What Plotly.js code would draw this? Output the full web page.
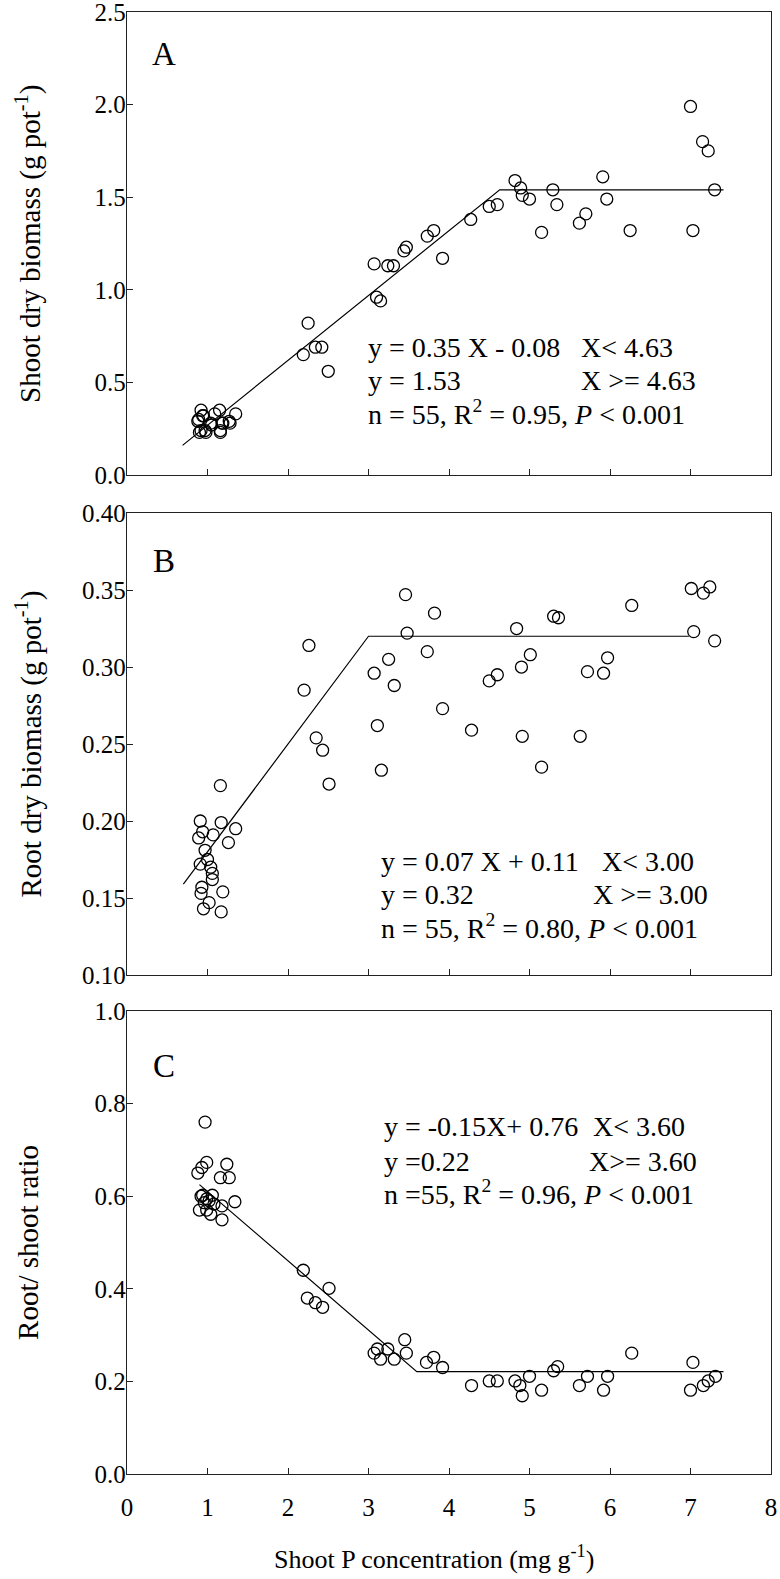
<!DOCTYPE html>
<html>
<head>
<meta charset="utf-8">
<script src="https://cdn.plot.ly/plotly-3.0.1.min.js"></script>
<style>html,body{margin:0;padding:0;background:#fff;}</style>
</head>
<body>
<div id="chart" style="width:780px;height:1579px;"></div>
<script>
// ---- Panel A: shoot dry biomass ----
const xA = [0.88,0.89,0.90,0.92,0.92,0.94,0.95,0.97,0.98,1.04,1.05,1.09,1.15,1.16,1.16,1.18,1.19,1.27,1.28,1.35,
            2.19,2.25,2.34,2.42,2.50,
            3.07,3.10,3.15,3.24,3.31,3.44,3.47,3.73,3.81,3.92,
            4.27,4.50,4.60,4.82,4.89,4.91,5.00,5.15,5.29,5.34,5.62,5.70,5.91,5.96,6.25,7.00,7.03,7.15,7.22,7.30];
const yA = [0.29,0.30,0.23,0.35,0.24,0.32,0.32,0.24,0.23,0.28,0.27,0.33,0.35,0.24,0.23,0.28,0.28,0.29,0.28,0.33,
            0.65,0.82,0.69,0.69,0.56,
            1.14,0.96,0.94,1.13,1.13,1.21,1.23,1.29,1.32,1.17,
            1.38,1.45,1.46,1.59,1.55,1.51,1.49,1.31,1.54,1.46,1.36,1.41,1.61,1.49,1.32,1.99,1.32,1.80,1.75,1.54];
const fitAx = [0.69, 4.63, 7.41];
const fitAy = [0.16, 1.54, 1.54];

// ---- Panel B: root dry biomass ----
const xB = [0.89,0.91,0.91,0.92,0.93,0.94,0.95,0.97,1.00,1.02,1.04,1.06,1.06,1.07,1.16,1.17,1.17,1.19,1.26,1.35,
            2.20,2.26,2.35,2.43,2.51,
            3.07,3.11,3.16,3.25,3.32,3.46,3.48,3.73,3.82,3.92,
            4.28,4.50,4.60,4.84,4.90,4.91,5.01,5.15,5.30,5.36,5.63,5.72,5.92,5.97,6.27,7.01,7.04,7.16,7.24,7.30];
const yB = [0.189,0.200,0.172,0.153,0.157,0.193,0.143,0.181,0.175,0.147,0.170,0.166,0.162,0.191,0.223,0.199,0.141,0.154,0.186,0.195,
            0.285,0.314,0.254,0.246,0.224,
            0.296,0.262,0.233,0.305,0.288,0.347,0.322,0.310,0.335,0.273,
            0.259,0.291,0.295,0.325,0.300,0.255,0.308,0.235,0.333,0.332,0.255,0.297,0.296,0.306,0.340,0.351,0.323,0.348,0.352,0.317];
const fitBx = [0.70, 3.00, 6.98];
const fitBy = [0.159, 0.320, 0.320];

// ---- Panel C: root/shoot ratio ----
const xC = [0.88,0.90,0.92,0.93,0.94,0.96,0.97,0.99,0.99,0.99,1.02,1.04,1.06,1.08,1.16,1.18,1.18,1.24,1.27,1.34,
            2.19,2.24,2.34,2.43,2.51,
            3.07,3.11,3.15,3.24,3.32,3.45,3.47,3.72,3.81,3.92,
            4.28,4.50,4.60,4.82,4.88,4.91,5.00,5.15,5.30,5.35,5.62,5.72,5.92,5.97,6.27,7.00,7.03,7.16,7.22,7.31];
const yC = [0.650,0.570,0.600,0.662,0.602,0.586,0.760,0.673,0.594,0.570,0.590,0.561,0.602,0.583,0.640,0.579,0.549,0.669,0.640,0.588,
            0.440,0.380,0.370,0.360,0.401,
            0.261,0.270,0.248,0.270,0.248,0.290,0.261,0.241,0.252,0.230,
            0.191,0.201,0.201,0.201,0.191,0.169,0.211,0.181,0.223,0.232,0.191,0.211,0.181,0.211,0.261,0.181,0.241,0.191,0.201,0.211];
const fitCx = [0.90, 3.60, 7.41];
const fitCy = [0.625, 0.221, 0.221];

// ---- ticks and text ----
const xTickVals = [0,1,2,3,4,5,6,7,8];
const yTickValsA = [0,0.5,1.0,1.5,2.0,2.5];
const yTickValsB = [0.10,0.15,0.20,0.25,0.30,0.35,0.40];
const yTickValsC = [0,0.2,0.4,0.6,0.8,1.0];
const panelLabels = ["A","B","C"];
const yTitles = ["Shoot dry biomass (g pot<sup>-1</sup>)", "Root dry biomass (g pot<sup>-1</sup>)", "Root/ shoot ratio"];
const xTitle = "Shoot P concentration (mg g<sup>-1</sup>)";
const eqA = ["y = 0.35 X - 0.08", "X&lt; 4.63", "y = 1.53", "X &gt;= 4.63", "n = 55, R<sup>2</sup> = 0.95, <i>P</i> &lt; 0.001"];
const eqB = ["y = 0.07 X + 0.11", "X&lt; 3.00", "y = 0.32", "X &gt;= 3.00", "n = 55, R<sup>2</sup> = 0.80, <i>P</i> &lt; 0.001"];
const eqC = ["y = -0.15X+ 0.76", "X&lt; 3.60", "y =0.22", "X&gt;= 3.60", "n =55, R<sup>2</sup> = 0.96, <i>P</i> &lt; 0.001"];

const FONT = '"Liberation Serif", "Times New Roman", Times, serif';
const marker = {symbol:'circle-open', size:12, color:'#000', line:{width:1.3, color:'#000'}};
const fitLine = {color:'#000', width:1.2};

const traces = [
  {x:fitAx, y:fitAy, xaxis:'x', yaxis:'y', mode:'lines', line:fitLine, hoverinfo:'skip'},
  {x:xA, y:yA, xaxis:'x', yaxis:'y', mode:'markers', marker:marker},
  {x:fitBx, y:fitBy, xaxis:'x2', yaxis:'y2', mode:'lines', line:fitLine, hoverinfo:'skip'},
  {x:xB, y:yB, xaxis:'x2', yaxis:'y2', mode:'markers', marker:marker},
  {x:fitCx, y:fitCy, xaxis:'x3', yaxis:'y3', mode:'lines', line:fitLine, hoverinfo:'skip'},
  {x:xC, y:yC, xaxis:'x3', yaxis:'y3', mode:'markers', marker:marker}
];

const axBase = {
  showline:true, mirror:true, linecolor:'#222', linewidth:1.3,
  ticks:'inside', ticklen:6, tickwidth:1, tickcolor:'#222',
  showgrid:false, zeroline:false, ticklabeloverflow:'allow',
  tickfont:{family:FONT, size:25, color:'#000'}
};
function xAx(anchor, showLabels){
  return Object.assign({}, axBase, {anchor:anchor, domain:[0,1], range:[0,8],
    tickmode:'array', tickvals:xTickVals, showticklabels:showLabels, ticklabelstandoff:11});
}
function yAx(anchor, domain, range, vals, fmt){
  return Object.assign({}, axBase, {anchor:anchor, domain:domain, range:range,
    tickmode:'array', tickvals:vals, ticktext:vals.map(v=>v.toFixed(fmt)), ticklabelstandoff:-5});
}

const layout = {
  width:780, height:1579,
  margin:{l:127, r:9, t:12, b:105},
  paper_bgcolor:'#fff', plot_bgcolor:'#fff',
  showlegend:false,
  font:{family:FONT, color:'#000'},
  xaxis: xAx('y', false),
  xaxis2: xAx('y2', false),
  xaxis3: xAx('y3', true),
  yaxis: yAx('x', [0.6833,1], [0,2.5], yTickValsA, 1),
  yaxis2: yAx('x2', [0.3413,0.6573], [0.10,0.40], yTickValsB, 2),
  yaxis3: yAx('x3', [0,0.3167], [0,1.0], yTickValsC, 1),
  annotations: []
};

const ann = layout.annotations;
function addText(xr, yr, x, y, text, size, anchor){
  ann.push({xref:xr, yref:yr, x:x, y:y, text:text, showarrow:false,
    xanchor:anchor||'left', yanchor:'middle', font:{family:FONT, size:size, color:'#000'}});
}
const EQ = 28;
// panel labels
addText('x','y', 0.46, 2.273, panelLabels[0], 33, 'center');
addText('x2','y2', 0.46, 0.369, panelLabels[1], 33, 'center');
addText('x3','y3', 0.46, 0.882, panelLabels[2], 33, 'center');
// equations A
addText('x','y', 2.97, 0.686, eqA[0], EQ);
addText('x','y', 5.61, 0.686, eqA[1], EQ);
addText('x','y', 2.97, 0.508, eqA[2], EQ);
addText('x','y', 5.61, 0.508, eqA[3], EQ);
addText('x','y', 2.97, 0.335, eqA[4], EQ);
// equations B
addText('x2','y2', 3.13, 0.1734, eqB[0], EQ);
addText('x2','y2', 5.876, 0.1734, eqB[1], EQ);
addText('x2','y2', 3.13, 0.1526, eqB[2], EQ);
addText('x2','y2', 5.764, 0.1526, eqB[3], EQ);
addText('x2','y2', 3.13, 0.1315, eqB[4], EQ);
// equations C
addText('x3','y3', 3.17, 0.750, eqC[0], EQ);
addText('x3','y3', 5.76, 0.750, eqC[1], EQ);
addText('x3','y3', 3.17, 0.676, eqC[2], EQ);
addText('x3','y3', 5.71, 0.676, eqC[3], EQ);
addText('x3','y3', 3.17, 0.608, eqC[4], EQ);

// axis titles (centred on each panel)
const yTitleY = [0.8417, 0.4993, 0.1584];
for (let i=0;i<3;i++){
  ann.push({xref:'paper', yref:'paper', x:-0.153, y:yTitleY[i], text:yTitles[i], showarrow:false,
    textangle:-90, xanchor:'center', yanchor:'middle', font:{family:FONT, size:29, color:'#000'}});
}
ann.push({xref:'paper', yref:'paper', x:0.477, y:-0.057, text:xTitle, showarrow:false,
  xanchor:'center', yanchor:'middle', font:{family:FONT, size:26, color:'#000'}});

Plotly.newPlot('chart', traces, layout, {staticPlot:true, displayModeBar:false});
</script>
</body>
</html>
